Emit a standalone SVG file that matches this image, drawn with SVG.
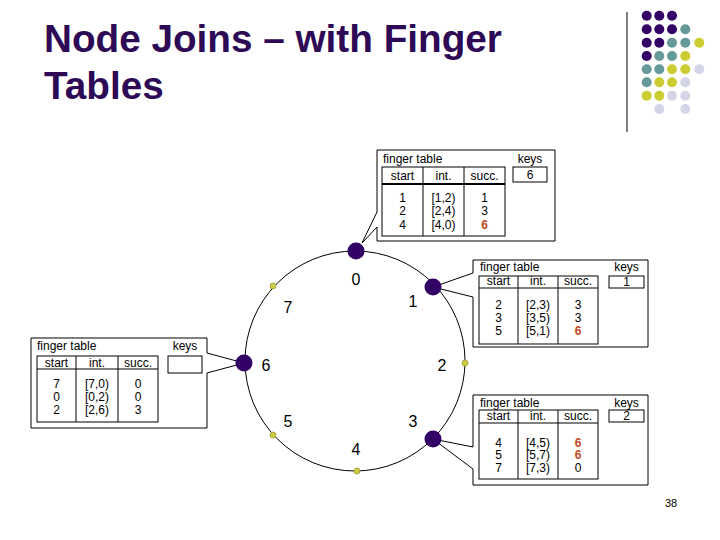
<svg xmlns="http://www.w3.org/2000/svg" width="720" height="540" viewBox="0 0 720 540">
<style>
.title{font-family:"Liberation Sans",Arial,sans-serif;font-size:38.7px;font-weight:bold;fill:#2E0A56}
.t{font-family:"Liberation Sans",Arial,sans-serif;font-size:12px;fill:#000}
.c{text-anchor:middle}
.red{fill:#C04A22;font-weight:bold}
.num{font-family:"Liberation Sans",Arial,sans-serif;font-size:16px;fill:#000;text-anchor:middle}
.box{fill:#fff;stroke:#000;stroke-width:1}
.ln{stroke:#000;stroke-width:1;fill:none}
.big{fill:#330066}
.small{fill:#CCCC44;stroke:#999933;stroke-width:0.8}
.P{fill:#330066}.T{fill:#669999}.Y{fill:#CCCC33}.L{fill:#D5D5E8}
</style>
<rect width="720" height="540" fill="#fff"/>
<g id="title">
<text class="title" x="44" y="52">Node Joins – with Finger</text>
<text class="title" x="44" y="99">Tables</text>
</g>
<g id="decoration">
<line x1="627" y1="12" x2="627" y2="132" stroke="#000" stroke-width="1"/>
<circle class="P" cx="646.7" cy="15.7" r="5"/><circle class="P" cx="659.3" cy="15.7" r="5"/><circle class="P" cx="672" cy="15.7" r="5"/>
<circle class="P" cx="646.7" cy="29.3" r="5"/><circle class="P" cx="659.3" cy="29.3" r="5"/><circle class="P" cx="672" cy="29.3" r="5"/><circle class="T" cx="685.3" cy="29.3" r="5"/>
<circle class="P" cx="646.7" cy="42.7" r="5"/><circle class="P" cx="659.3" cy="42.7" r="5"/><circle class="T" cx="672" cy="42.7" r="5"/><circle class="T" cx="685.3" cy="42.7" r="5"/><circle class="Y" cx="699.3" cy="42.7" r="5"/>
<circle class="P" cx="646.7" cy="56" r="5"/><circle class="T" cx="659.3" cy="56" r="5"/><circle class="T" cx="672" cy="56" r="5"/><circle class="Y" cx="685.3" cy="56" r="5"/>
<circle class="T" cx="646.7" cy="69.3" r="5"/><circle class="T" cx="659.3" cy="69.3" r="5"/><circle class="Y" cx="672" cy="69.3" r="5"/><circle class="Y" cx="685.3" cy="69.3" r="5"/><circle class="L" cx="699.3" cy="69.3" r="5"/>
<circle class="T" cx="646.7" cy="82.3" r="5"/><circle class="Y" cx="659.3" cy="82.3" r="5"/><circle class="Y" cx="672" cy="82.3" r="5"/><circle class="L" cx="685.3" cy="82.3" r="5"/>
<circle class="Y" cx="646.7" cy="95.7" r="5"/><circle class="Y" cx="659.3" cy="95.7" r="5"/><circle class="L" cx="672" cy="95.7" r="5"/><circle class="L" cx="685.3" cy="95.7" r="5"/>
<circle class="L" cx="659.3" cy="109" r="5"/><circle class="L" cx="685.3" cy="109" r="5"/>
</g>
<g id="connectors">
<circle cx="355" cy="361" r="110" class="ln"/>
</g>
<g id="callout-0">
<path class="box" d="M377,150 H555 V241 H377 V227 L362,243 L377,212 Z"/>
<text class="t" x="383" y="163">finger table</text>
<text class="t c" x="530" y="163">keys</text>
<rect class="box" x="513" y="167" width="34" height="15"/>
<text class="t c" x="530" y="179">6</text>
<rect class="box" x="382" y="167" width="123" height="69"/>
<line class="ln" x1="423" y1="167" x2="423" y2="236"/>
<line class="ln" x1="464" y1="167" x2="464" y2="236"/>
<line x1="382" y1="184" x2="505" y2="184" stroke="#000" stroke-width="2"/>
<text class="t c" x="402.5" y="180">start</text><text class="t c" x="443.5" y="180">int.</text><text class="t c" x="484.5" y="180">succ.</text>
<text class="t c" x="402.5" y="201.5">1</text><text class="t c" x="443.5" y="201.5">[1,2)</text><text class="t c" x="484.5" y="201.5">1</text>
<text class="t c" x="402.5" y="215">2</text><text class="t c" x="443.5" y="215">[2,4)</text><text class="t c" x="484.5" y="215">3</text>
<text class="t c" x="402.5" y="228.5">4</text><text class="t c" x="443.5" y="228.5">[4,0)</text><text class="t c red" x="484.5" y="228.5">6</text>
</g>
<g id="callout-1">
<path class="box" d="M473,260 H648 V347 H473 V297 L433,287 L473,273 Z"/>
<text class="t" x="480" y="271">finger table</text>
<text class="t c" x="626.5" y="271">keys</text>
<rect class="box" x="609" y="276" width="35" height="12"/>
<text class="t c" x="626.5" y="286">1</text>
<rect class="box" x="479" y="276" width="119" height="68"/>
<line class="ln" x1="518" y1="276" x2="518" y2="344"/>
<line class="ln" x1="558" y1="276" x2="558" y2="344"/>
<line class="ln" x1="479" y1="288" x2="598" y2="288"/>
<text class="t c" x="498.5" y="285">start</text><text class="t c" x="538" y="285">int.</text><text class="t c" x="578" y="285">succ.</text>
<text class="t c" x="498.5" y="308.5">2</text><text class="t c" x="538" y="308.5">[2,3)</text><text class="t c" x="578" y="308.5">3</text>
<text class="t c" x="498.5" y="321.5">3</text><text class="t c" x="538" y="321.5">[3,5)</text><text class="t c" x="578" y="321.5">3</text>
<text class="t c" x="498.5" y="334.5">5</text><text class="t c" x="538" y="334.5">[5,1)</text><text class="t c red" x="578" y="334.5">6</text>
</g>
<g id="callout-3">
<path class="box" d="M473,395 H648 V485 H473 V469 L433,439 L473,447 Z"/>
<text class="t" x="480" y="407">finger table</text>
<text class="t c" x="626.5" y="407">keys</text>
<rect class="box" x="609" y="410" width="35" height="12"/>
<text class="t c" x="626.5" y="420">2</text>
<rect class="box" x="479" y="410" width="119" height="69"/>
<line class="ln" x1="518" y1="410" x2="518" y2="479"/>
<line class="ln" x1="558" y1="410" x2="558" y2="479"/>
<line class="ln" x1="479" y1="423" x2="598" y2="423"/>
<text class="t c" x="498.5" y="420">start</text><text class="t c" x="538" y="420">int.</text><text class="t c" x="578" y="420">succ.</text>
<text class="t c" x="498.5" y="446.5">4</text><text class="t c" x="538" y="446.5">[4,5)</text><text class="t c red" x="578" y="446.5">6</text>
<text class="t c" x="498.5" y="459">5</text><text class="t c" x="538" y="459">[5,7)</text><text class="t c red" x="578" y="459">6</text>
<text class="t c" x="498.5" y="471.5">7</text><text class="t c" x="538" y="471.5">[7,3)</text><text class="t c" x="578" y="471.5">0</text>
</g>
<g id="callout-6">
<path class="box" d="M31,338 H207 V353 L244,363 L207,373 V428 H31 Z"/>
<text class="t" x="37" y="350">finger table</text>
<text class="t c" x="185" y="350">keys</text>
<rect class="box" x="168" y="356" width="34" height="17"/>
<rect class="box" x="37" y="356" width="121" height="66"/>
<line class="ln" x1="76" y1="356" x2="76" y2="422"/>
<line class="ln" x1="118" y1="356" x2="118" y2="422"/>
<line class="ln" x1="37" y1="369" x2="158" y2="369"/>
<text class="t c" x="56.5" y="367">start</text><text class="t c" x="97" y="367">int.</text><text class="t c" x="138" y="367">succ.</text>
<text class="t c" x="56.5" y="387.5">7</text><text class="t c" x="97" y="387.5">[7,0)</text><text class="t c" x="138" y="387.5">0</text>
<text class="t c" x="56.5" y="400.5">0</text><text class="t c" x="97" y="400.5">[0,2)</text><text class="t c" x="138" y="400.5">0</text>
<text class="t c" x="56.5" y="413.5">2</text><text class="t c" x="97" y="413.5">[2,6)</text><text class="t c" x="138" y="413.5">3</text>
</g>
<g id="node-0"><circle class="big" cx="356" cy="251" r="8.5"/><text class="num" x="356" y="285">0</text></g>
<g id="node-1"><circle class="big" cx="433" cy="287" r="8.5"/><text class="num" x="413" y="307">1</text></g>
<g id="node-2"><circle class="small" cx="465" cy="363" r="3"/><text class="num" x="442" y="371">2</text></g>
<g id="node-3"><circle class="big" cx="433" cy="439" r="8.5"/><text class="num" x="413" y="427">3</text></g>
<g id="node-4"><circle class="small" cx="357" cy="471" r="3"/><text class="num" x="356" y="455">4</text></g>
<g id="node-5"><circle class="small" cx="273" cy="435" r="3"/><text class="num" x="288" y="427">5</text></g>
<g id="node-6"><circle class="big" cx="244" cy="363" r="8.5"/><text class="num" x="266" y="371">6</text></g>
<g id="node-7"><circle class="small" cx="273" cy="286" r="3"/><text class="num" x="288" y="313">7</text></g>
<text class="t c" x="671" y="507" style="font-size:11px">38</text>
</svg>
